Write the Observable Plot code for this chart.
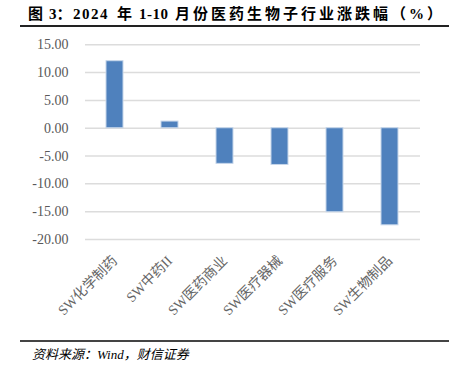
<!DOCTYPE html>
<html>
<head>
<meta charset="utf-8">
<script src="https://cdn.jsdelivr.net/npm/d3@7"></script>
<script src="https://cdn.jsdelivr.net/npm/@observablehq/plot@0.6"></script>
<style>
  html, body { margin: 0; padding: 0; background: #fff; width: 459px; height: 378px; overflow: hidden; position: relative; }
  .t { position: absolute; top: 6px; line-height: 16px; font-family: "Liberation Serif", "Noto Sans CJK SC", serif; font-weight: bold; font-size: 15px; color: #000; white-space: nowrap; }
  #tline { position: absolute; left: 20px; width: 429px; top: 25px; height: 0; border-top: 2px solid #222; }
  #chart { position: absolute; left: 0; top: 35px; }
  #bline { position: absolute; left: 20px; width: 429px; top: 340px; height: 0; border-top: 2px solid #444; }
  #caption { position: absolute; left: 32px; top: 348px; line-height: 14px; font-family: "Liberation Serif", "Noto Sans CJK SC", serif; font-style: italic; font-size: 13px; color: #000; white-space: nowrap; }
</style>
</head>
<body>
<span class="t" style="left:28px">图</span>
<span class="t" style="left:49px">3：</span>
<span class="t" style="left:73px;letter-spacing:1.5px">2024</span>
<span class="t" style="left:117px">年</span>
<span class="t" style="left:139px;letter-spacing:0.5px">1-10</span>
<span class="t" style="left:175px;letter-spacing:3px">月份医药生物子行业涨跌幅（%）</span>
<div id="tline"></div>
<div id="chart"></div>
<div id="bline"></div>
<div id="caption">资料来源：Wind，财信证券</div>
<script>
const categories = ["SW化学制药", "SW中药II", "SW医药商业", "SW医疗器械", "SW医疗服务", "SW生物制品"];
const values = [12.05, 1.2, -6.4, -6.6, -15.1, -17.45];
const yTicks = [15, 10, 5, 0, -5, -10, -15, -20];

const data = categories.map((c, i) => ({category: c, value: values[i]}));

const plot = Plot.plot({
  width: 459,
  height: 300,
  marginLeft: 85,
  marginRight: 39,
  marginTop: 9.3,
  marginBottom: 96,
  style: {fontFamily: "'Liberation Serif', 'Noto Sans CJK SC', serif", fontSize: "14px", color: "#595959", background: "transparent"},
  x: {domain: categories, paddingInner: 0.69, paddingOuter: 0.345, label: null},
  y: {domain: [-20, 15], label: null},
  marks: [
    Plot.ruleY(yTicks, {stroke: "#dcdcdc", strokeWidth: 1.5}),
    Plot.barY(data, {x: "category", y: "value", fill: "#4f81bd", stroke: "#c6d6ea", strokeWidth: 1}),
    Plot.axisY({ticks: yTicks, tickSize: 0, tickPadding: 17, tickFormat: d => d.toFixed(2), fontSize: 14, fill: "#595959"}),
    Plot.axisX({tickSize: 0, tickPadding: 19, tickRotate: -45, fontSize: 14, fill: "#666666"})
  ]
});
document.getElementById("chart").appendChild(plot);
</script>
</body>
</html>
